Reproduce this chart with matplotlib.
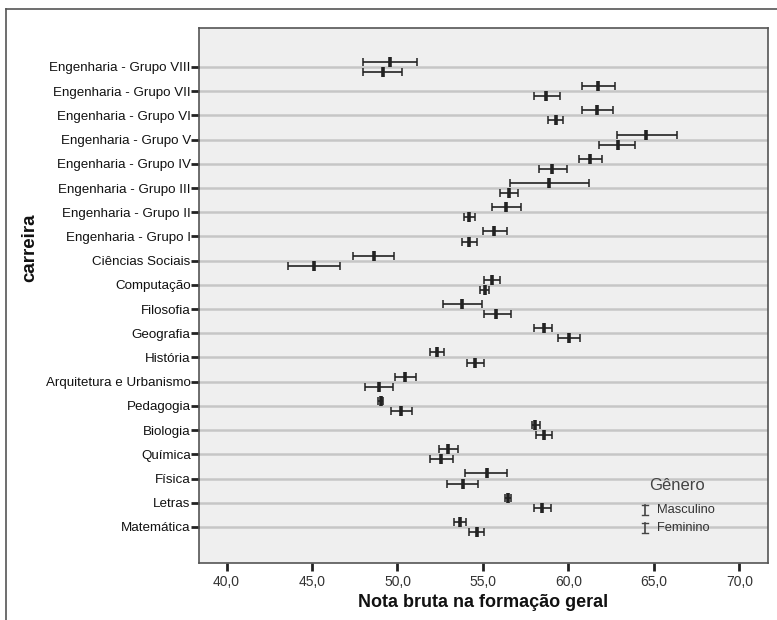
import matplotlib
matplotlib.use("Agg")
import matplotlib.pyplot as plt
from matplotlib.lines import Line2D
import numpy as np

plt.rcParams['font.family'] = ['Liberation Sans', 'DejaVu Sans']

categories = ["Engenharia - Grupo VIII", "Engenharia - Grupo VII", "Engenharia - Grupo VI",
              "Engenharia - Grupo V", "Engenharia - Grupo IV", "Engenharia - Grupo III",
              "Engenharia - Grupo II", "Engenharia - Grupo I", "Ciências Sociais",
              "Computação", "Filosofia", "Geografia", "História",
              "Arquitetura e Urbanismo", "Pedagogia", "Biologia", "Química",
              "Física", "Letras", "Matemática"]

masc_mean = [49.56, 61.74, 61.68, 64.56, 61.26, 58.88, 56.34, 55.67, 48.62,
             55.54, 53.79, 58.55, 52.29, 50.45, 49.03, 58.07, 52.98, 55.23, 56.46, 53.67]
masc_low = [47.99, 60.78, 60.82, 62.82, 60.63, 56.59, 55.54, 54.98, 47.39,
            55.08, 52.64, 58.01, 51.89, 49.85, 48.89, 57.86, 52.41, 53.98, 56.29, 53.31]
masc_high = [51.16, 62.70, 62.60, 66.37, 61.95, 61.22, 57.21, 56.40, 49.81,
             56.00, 54.92, 59.07, 52.71, 51.10, 49.18, 58.32, 53.54, 56.42, 56.63, 54.04]

fem_mean = [49.16, 58.71, 59.28, 62.89, 59.05, 56.52, 54.19, 54.19, 45.13,
            55.11, 55.79, 60.01, 54.52, 48.95, 50.22, 58.55, 52.54, 53.81, 58.44, 54.63]
fem_low = [47.99, 58.00, 58.80, 61.78, 58.26, 55.98, 53.90, 53.77, 43.61,
           54.83, 55.04, 59.38, 54.06, 48.12, 49.62, 58.11, 51.89, 52.89, 58.01, 54.21]
fem_high = [50.24, 59.49, 59.70, 63.91, 59.90, 57.07, 54.52, 54.67, 46.63,
            55.36, 56.63, 60.70, 55.08, 49.76, 50.87, 59.07, 53.25, 54.69, 58.97, 55.08]

x_ticks = [40, 45, 50, 55, 60, 65, 70]
x_tick_labels = ["40,0", "45,0", "50,0", "55,0", "60,0", "65,0", "70,0"]

W, H = 777, 620
fig = plt.figure(figsize=(W / 100, H / 100), dpi=100)
fig.patch.set_facecolor("white")

# outer frame (left and top lines)
fig.add_artist(Line2D([6 / W, 6 / W], [0, 1 - 9 / H], transform=fig.transFigure,
                      color="#555555", lw=1.2))
fig.add_artist(Line2D([6 / W, 1], [1 - 9 / H, 1 - 9 / H], transform=fig.transFigure,
                      color="#555555", lw=1.2))

ax = fig.add_axes([199 / W, 1 - 563 / H, (768 - 199) / W, (563 - 28) / H])
ax.set_facecolor("#efefef")

n = len(categories)
y = np.arange(n)
off = 0.21

for i in range(n):
    ax.axhline(i, color="#c6c6c6", lw=1.8, zorder=1)

ecol = "#222222"
for means, lows, highs, sgn in [(masc_mean, masc_low, masc_high, -1),
                                (fem_mean, fem_low, fem_high, 1)]:
    means = np.array(means)
    lows = np.array(lows)
    highs = np.array(highs)
    yy = y + sgn * off
    ax.errorbar(means, yy, xerr=[means - lows, highs - means], fmt="none",
                ecolor=ecol, elinewidth=1.2, capsize=3, capthick=1.1, zorder=3)
    ax.plot(means, yy, linestyle="none", marker="|", markersize=6.5,
            markeredgewidth=2.6, color=ecol, zorder=4)

ax.set_xlim(38.39, 71.68)
ax.set_ylim(20.49, -1.61)
ax.set_yticks(y)
ax.set_yticklabels(categories, fontsize=9.6, color="#111111")
ax.set_xticks(x_ticks)
ax.set_xticklabels(x_tick_labels, fontsize=10, color="#333333")
ax.tick_params(axis="y", length=6, width=2, color="#222222", pad=0)
ax.tick_params(axis="x", length=6, width=2, color="#222222", pad=3)
for s in ax.spines.values():
    s.set_color("#555555")
    s.set_linewidth(1.2)

ax.set_xlabel("Nota bruta na formação geral", fontsize=13, fontweight="bold",
              color="#111111", labelpad=3)
fig.text(30 / W, 1 - 248 / H, "carreira", rotation=90, fontsize=13.5,
         fontweight="bold", color="#111111", ha="center", va="center")

# legend
fig.text(677 / W, 1 - 485 / H, "Gênero", fontsize=12, color="#444444",
         ha="center", va="center")
for label, ly in [("Masculino", 510), ("Feminino", 528)]:
    xs = 645 / W
    top = 1 - (ly - 5) / H
    bot = 1 - (ly + 5) / H
    fig.add_artist(Line2D([xs, xs], [bot, top], transform=fig.transFigure,
                          color="#444444", lw=1.2))
    for yv in (bot, top):
        fig.add_artist(Line2D([xs - 3 / W, xs + 3 / W], [yv, yv],
                              transform=fig.transFigure, color="#444444", lw=1.0))
    fig.text(657 / W, 1 - ly / H, label, fontsize=9.3, color="#333333",
             ha="left", va="center")

fig.savefig("out.png", dpi=100)
